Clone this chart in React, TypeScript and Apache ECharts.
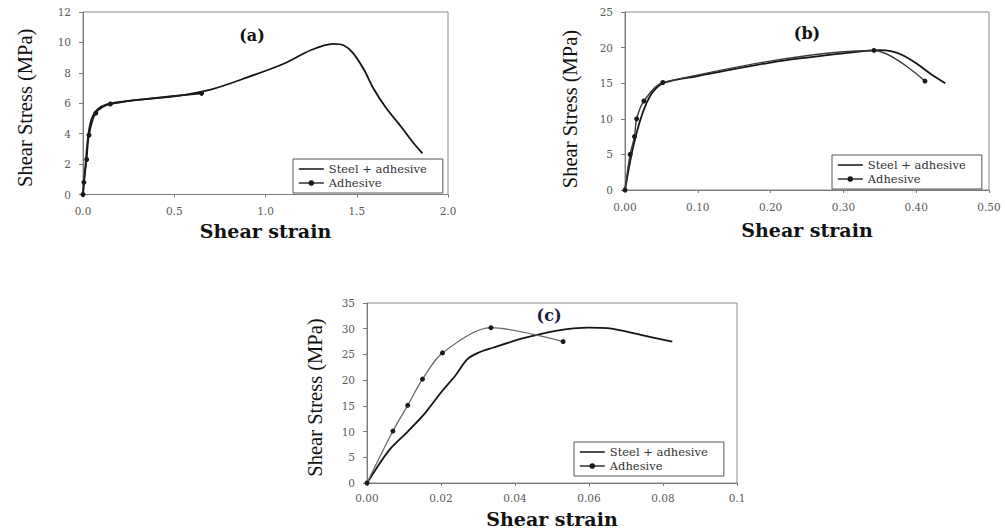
import React, { useEffect, useRef } from "react";
import * as echarts from "echarts";

// Shear stress (MPa) against shear strain for three specimen groups.
// Each point is [shear strain, shear stress].
const steelA: number[][] = [
  [0, 0], [0.016, 2.3], [0.03, 4.0], [0.048, 5.0], [0.075, 5.55], [0.13, 5.93],
  [0.28, 6.2], [0.5, 6.45], [0.7, 6.9], [0.9, 7.7], [1.1, 8.6], [1.25, 9.5],
  [1.37, 9.9], [1.43, 9.8], [1.48, 9.3], [1.54, 8.2], [1.59, 7.0], [1.66, 5.7],
  [1.74, 4.5], [1.81, 3.4], [1.86, 2.7],
];
const adhesiveA: number[][] = [
  [0, 0], [0.005, 0.8], [0.02, 2.3], [0.033, 3.9], [0.07, 5.35], [0.15, 5.95], [0.65, 6.65],
];

const steelB: number[][] = [
  [0, 0], [0.01, 5.5], [0.02, 9.5], [0.03, 12.3], [0.04, 14.0], [0.055, 15.1],
  [0.1, 16.0], [0.2, 17.9], [0.25, 18.6], [0.3, 19.2], [0.35, 19.65], [0.365, 19.5],
  [0.38, 19.0], [0.4, 17.8], [0.42, 16.3], [0.44, 15.0],
];
const adhesiveB: number[][] = [
  [0, 0], [0.007, 5], [0.013, 7.5], [0.016, 10], [0.026, 12.5], [0.052, 15.1],
  [0.342, 19.6], [0.412, 15.3],
];

const steelC: number[][] = [
  [0, 0], [0.006, 6.4], [0.011, 10.0], [0.0157, 13.6], [0.02, 17.6], [0.024, 21.0],
  [0.027, 24.0], [0.03, 25.3], [0.034, 26.3], [0.042, 28.1], [0.051, 29.6],
  [0.06, 30.2], [0.065, 30.1], [0.074, 28.8], [0.0825, 27.5],
];
const adhesiveC: number[][] = [
  [0, 0], [0.007, 10.1], [0.011, 15.1], [0.015, 20.2], [0.0204, 25.3], [0.0335, 30.2], [0.053, 27.5],
];

const xTicksA = ["0.0", "0.5", "1.0", "1.5", "2.0"];
const xTicksB = ["0.00", "0.10", "0.20", "0.30", "0.40", "0.50"];
const xTicksC = ["0.00", "0.02", "0.04", "0.06", "0.08", "0.1"];

const seriesNames = ["Steel + adhesive", "Adhesive"];
const panelLabels = ["(a)", "(b)", "(c)"];
const xTitle = "Shear strain";
const yTitle = "Shear Stress (MPa)";

const SERIF = "DejaVu Serif";
const TITLE_SERIF = "Liberation Serif";
const AXIS_GREY = "#7a7a7a";

function makeX(gridIndex: number, max: number, interval: number, ticks: string[], labelMargin: number, nameGap: number) {
  return {
    type: "value",
    gridIndex,
    min: 0,
    max,
    interval,
    name: xTitle,
    nameLocation: "middle",
    nameGap,
    nameTextStyle: { fontFamily: SERIF, fontWeight: "bold", fontSize: 19, color: "#111" },
    axisLine: { show: true, lineStyle: { color: AXIS_GREY, width: 1 } },
    axisTick: { show: true, length: 3, lineStyle: { color: AXIS_GREY } },
    splitLine: { show: false },
    axisLabel: {
      margin: labelMargin,
      fontFamily: SERIF,
      fontSize: 10.5,
      color: "#5a5a5a",
      showMaxLabel: true,
      formatter: (_v: number, i: number) => ticks[i] ?? "",
    },
  };
}

function makeY(gridIndex: number, max: number, interval: number, nameGap: number, shift: number) {
  return {
    type: "value",
    gridIndex,
    min: 0,
    max,
    interval,
    name: yTitle,
    nameLocation: "middle",
    nameGap,
    nameTextStyle: {
      fontFamily: TITLE_SERIF,
      fontSize: 20.5,
      color: "#111",
      padding: [0, shift, 0, 0],
    },
    axisLine: { show: true, lineStyle: { color: AXIS_GREY, width: 1 } },
    axisTick: { show: true, length: 4, lineStyle: { color: AXIS_GREY } },
    splitLine: { show: false },
    axisLabel: { margin: 12, fontFamily: SERIF, fontSize: 10.5, color: "#5a5a5a" },
  };
}

function steelSeries(data: number[][], idx: number) {
  return {
    type: "line",
    name: seriesNames[0],
    xAxisIndex: idx,
    yAxisIndex: idx,
    data,
    smooth: 0.3,
    showSymbol: false,
    symbol: "none",
    lineStyle: { color: "#151515", width: 1.8 },
    itemStyle: { color: "#151515" },
    z: 2,
  };
}

function adhesiveSeries(data: number[][], idx: number, color: string, width: number) {
  return {
    type: "line",
    name: seriesNames[1],
    xAxisIndex: idx,
    yAxisIndex: idx,
    data,
    smooth: 0.3,
    symbol: "circle",
    symbolSize: 5,
    lineStyle: { color, width },
    itemStyle: { color: "#1a1a1a" },
    z: 3,
  };
}

function makeLegend(left: number, top: number) {
  return {
    data: [
      // plain line sample, no marker
      { name: seriesNames[0], itemStyle: { opacity: 0 }, lineStyle: { color: "#222", width: 1.6 } },
      { name: seriesNames[1], lineStyle: { color: "#222", width: 1.4 } },
    ],
    left,
    top,
    orient: "vertical",
    selectedMode: false,
    backgroundColor: "#fff",
    borderColor: "#555",
    borderWidth: 1,
    borderRadius: 0,
    padding: [3, 16, 3, 5],
    itemWidth: 25,
    itemHeight: 7,
    itemGap: 0,
    textStyle: { fontFamily: SERIF, fontSize: 11.5, color: "#333", lineHeight: 14 },
  };
}

function panelLabel(text: string, x: number, y: number, fill: string) {
  return {
    type: "text",
    x,
    y,
    style: {
      text,
      align: "center",
      verticalAlign: "middle",
      font: `bold 16px "${SERIF}"`,
      fill,
    },
    z: 10,
  };
}

export default function App() {
  const ref = useRef<HTMLDivElement>(null);

  useEffect(() => {
    if (!ref.current) return;
    const chart = echarts.init(ref.current, undefined, { renderer: "svg" });
    chart.setOption({
      animation: false,
      backgroundColor: "#ffffff",
      grid: [
        { left: 83, top: 12, width: 365, height: 182.5, show: true, borderColor: "#8a8a8a", borderWidth: 1, containLabel: false },
        { left: 625, top: 12, width: 364, height: 178, show: true, borderColor: "#8a8a8a", borderWidth: 1, containLabel: false },
        { left: 367, top: 303, width: 370, height: 180, show: true, borderColor: "#8a8a8a", borderWidth: 1, containLabel: false },
      ],
      xAxis: [
        makeX(0, 2, 0.5, xTicksA, 11, 27),
        makeX(1, 0.5, 0.1, xTicksB, 11, 30),
        makeX(2, 0.1, 0.02, xTicksC, 9, 26),
      ],
      yAxis: [
        makeY(0, 12, 2, 48, 9),
        makeY(1, 25, 5, 45, 16),
        makeY(2, 35, 5, 42, 9),
      ],
      legend: [makeLegend(293, 159), makeLegend(832, 155), makeLegend(574, 442)],
      series: [
        steelSeries(steelA, 0),
        adhesiveSeries(adhesiveA, 0, "#1a1a1a", 1.6),
        steelSeries(steelB, 1),
        adhesiveSeries(adhesiveB, 1, "#3a3a3a", 1.4),
        steelSeries(steelC, 2),
        adhesiveSeries(adhesiveC, 2, "#6a6a6a", 1.3),
      ],
      graphic: [
        panelLabel(panelLabels[0], 252, 35, "#111"),
        panelLabel(panelLabels[1], 807, 33, "#111"),
        panelLabel(panelLabels[2], 549, 315, "#1c1c3c"),
      ],
    });
    return () => chart.dispose();
  }, []);

  return (
    <div
      ref={ref}
      style={{ position: "absolute", left: 0, top: 0, width: 1005, height: 531, background: "#fff" }}
    />
  );
}
